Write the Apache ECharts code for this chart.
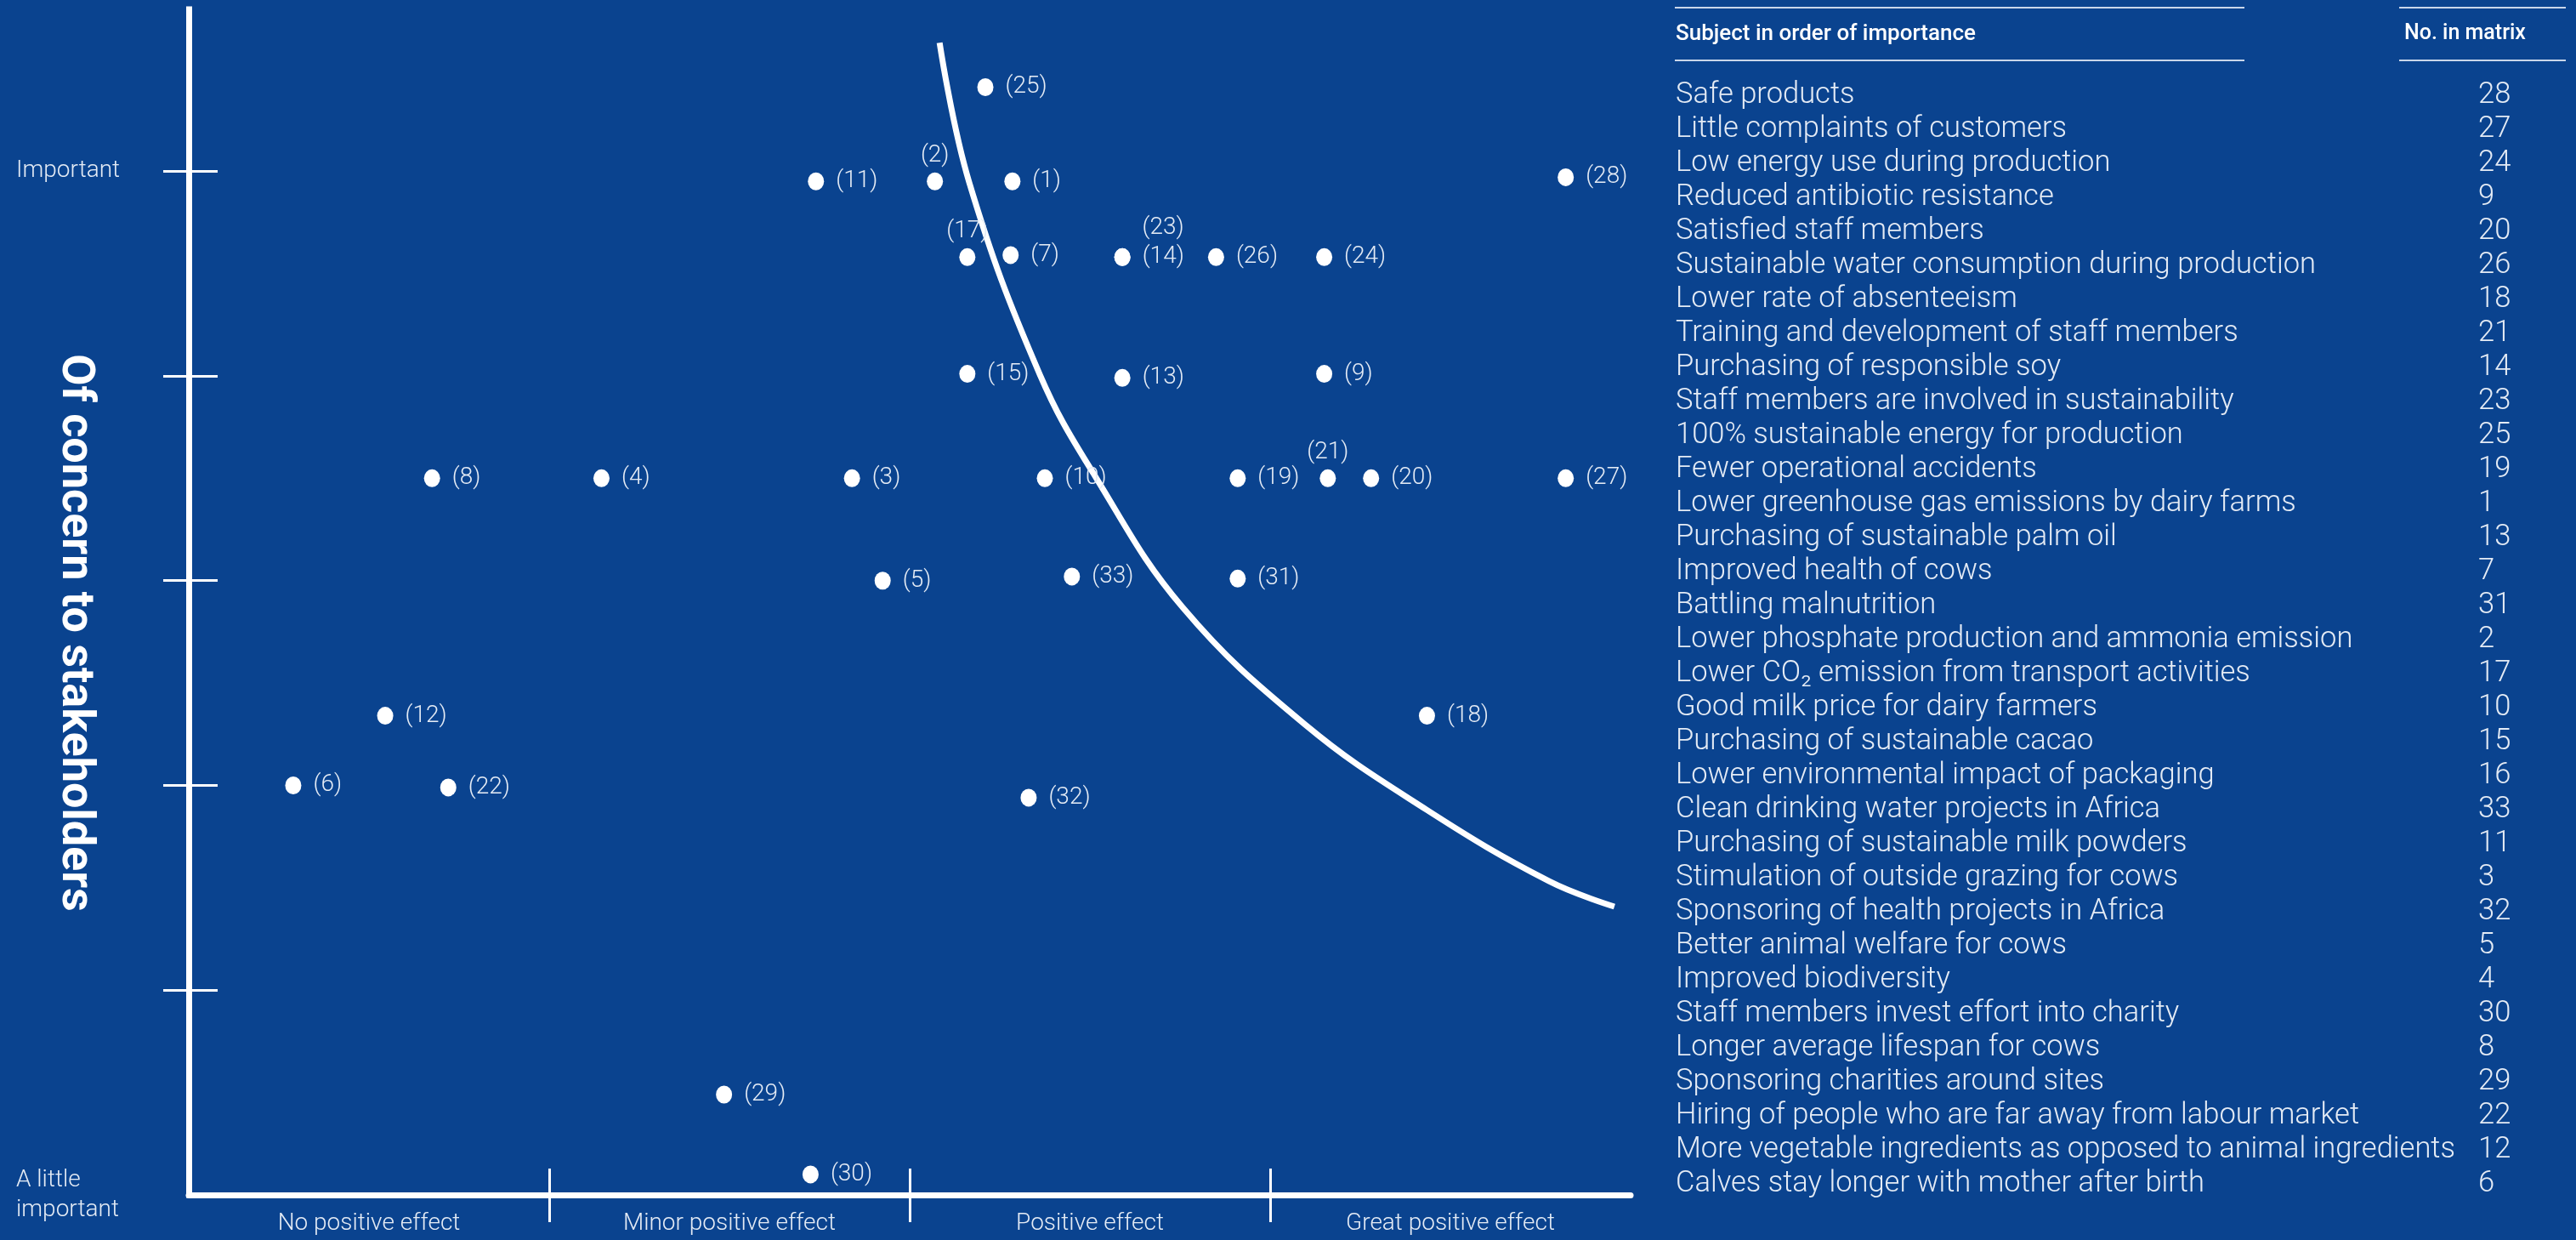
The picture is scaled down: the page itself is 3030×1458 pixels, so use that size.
<!DOCTYPE html>
<html><head><meta charset="utf-8">
<script src="https://cdn.jsdelivr.net/npm/echarts@6/dist/echarts.min.js"></script>
<style>html,body{margin:0;padding:0;background:#0a438f;overflow:hidden}#c{width:3030px;height:1458px;}</style>
</head><body><div id="c"></div>
<script>
// ---------- data ----------
const xCategories = ['No positive effect', 'Minor positive effect', 'Positive effect', 'Great positive effect'];
const yTopLabel = 'Important';
const yBottomLabel = 'A little\nimportant';
const yAxisTitle = 'Of concern to stakeholders';

const pointIds = [25, 11, 2, 1, 28, 17, 7, 14, 23, 26, 24, 15, 13, 9, 8, 4, 3, 10, 19, 21, 20, 27, 5, 33, 31, 12, 18, 6, 22, 32, 29, 30];
const pointX   = [2.21, 1.74, 2.07, 2.285, 3.82, 2.16, 2.28, 2.59, 2.59, 2.85, 3.15, 2.16, 2.59, 3.15, 0.675, 1.145, 1.84, 2.375, 2.91, 3.16, 3.28, 3.82, 1.925, 2.45, 2.91, 0.545, 3.435, 0.29, 0.72, 2.33, 1.485, 1.725];
const pointY   = [5.41, 4.95, 4.95, 4.95, 4.97, 4.58, 4.59, 4.58, 4.58, 4.58, 4.58, 4.01, 3.99, 4.01, 3.50, 3.50, 3.50, 3.50, 3.50, 3.50, 3.50, 3.50, 3.00, 3.02, 3.01, 2.34, 2.34, 2.00, 1.99, 1.94, 0.49, 0.10];

const curveX = [2.083, 2.165, 2.361, 2.519, 2.757, 3.097, 3.434, 3.774, 3.955];
const curveY = [5.627, 4.946, 4.007, 3.497, 2.870, 2.297, 1.881, 1.532, 1.408];

const tableHeaderSubject = 'Subject in order of importance';
const tableHeaderNumber = 'No. in matrix';
const subjects = [
  'Safe products',
  'Little complaints of customers',
  'Low energy use during production',
  'Reduced antibiotic resistance',
  'Satisfied staff members',
  'Sustainable water consumption during production',
  'Lower rate of absenteeism',
  'Training and development of staff members',
  'Purchasing of responsible soy',
  'Staff members are involved in sustainability',
  '100% sustainable energy for production',
  'Fewer operational accidents',
  'Lower greenhouse gas emissions by dairy farms',
  'Purchasing of sustainable palm oil',
  'Improved health of cows',
  'Battling malnutrition',
  'Lower phosphate production and ammonia emission',
  'Lower CO\u2082 emission from transport activities',
  'Good milk price for dairy farmers',
  'Purchasing of sustainable cacao',
  'Lower environmental impact of packaging',
  'Clean drinking water projects in Africa',
  'Purchasing of sustainable milk powders',
  'Stimulation of outside grazing for cows',
  'Sponsoring of health projects in Africa',
  'Better animal welfare for cows',
  'Improved biodiversity',
  'Staff members invest effort into charity',
  'Longer average lifespan for cows',
  'Sponsoring charities around sites',
  'Hiring of people who are far away from labour market',
  'More vegetable ingredients as opposed to animal ingredients',
  'Calves stay longer with mother after birth'
];
const subjectNumbers = [28, 27, 24, 9, 20, 26, 18, 21, 14, 23, 25, 19, 1, 13, 7, 31, 2, 17, 10, 15, 16, 33, 11, 3, 32, 5, 4, 30, 8, 29, 22, 12, 6];

// ---------- styling ----------
const BG = '#0a438f';
const TXT = '#e4ebf5';
const FONT = 'Roboto';
const labelAbove = new Set([2, 17, 21]);

const chart = echarts.init(document.getElementById('c'), null, {renderer: 'canvas', devicePixelRatio: 1});

const scatterData = pointIds.map((id, i) => {
  const d = {value: [pointX[i], pointY[i]], name: '(' + id + ')'};
  if (labelAbove.has(id)) d.label = {position: 'top', distance: 6};
  if (id === 23) d.label = {position: 'top', distance: 6, offset: [48, -4]};
  return d;
});

const curveData = curveX.map((x, i) => [x, curveY[i]]);

const graphics = [];
graphics.push({
  type: 'text', x: 87, y: 744, rotation: -Math.PI / 2,
  style: {text: yAxisTitle, fill: '#ffffff', fontSize: 54, fontWeight: 'bold', fontFamily: FONT, align: 'center', verticalAlign: 'middle'}
});
// table header lines
const tLeft = 1970, tRight = 2640, nLeft = 2822, nRight = 3018;
[9, 71].forEach(y => {
  graphics.push({type: 'line', shape: {x1: tLeft, y1: y, x2: tRight, y2: y}, style: {stroke: '#c9d6ea', lineWidth: 2}});
  graphics.push({type: 'line', shape: {x1: nLeft, y1: y, x2: nRight, y2: y}, style: {stroke: '#c9d6ea', lineWidth: 2}});
});
graphics.push({type: 'text', x: 1971, y: 40, style: {text: tableHeaderSubject, fill: '#ffffff', fontSize: 26, fontWeight: 500, fontFamily: FONT, align: 'left', verticalAlign: 'middle'}});
graphics.push({type: 'text', x: 2828, y: 40, style: {text: tableHeaderNumber, fill: '#ffffff', fontSize: 25, fontWeight: 500, fontFamily: FONT, align: 'left', verticalAlign: 'middle'}});
subjects.forEach((s, i) => {
  const y = 112 + i * 40;
  graphics.push({type: 'text', x: 1971, y: y, style: {text: s, fill: TXT, fontSize: 34.5, fontWeight: 300, fontFamily: FONT, align: 'left', verticalAlign: 'middle'}});
  graphics.push({type: 'text', x: 2915, y: y, style: {text: String(subjectNumbers[i]), fill: TXT, fontSize: 34.5, fontWeight: 300, fontFamily: FONT, align: 'left', verticalAlign: 'middle'}});
});

const xMain = {
  type: 'value', min: 0, max: 4, interval: 1, position: 'bottom',
  axisLine: {show: true, lineStyle: {color: '#ffffff', width: 7}},
  axisTick: {show: true, inside: false, length: 32, customValues: [1, 2, 3], lineStyle: {color: '#ffffff', width: 3}},
  axisLabel: {show: true, customValues: [0.5, 1.5, 2.5, 3.5], margin: 20, color: TXT, fontSize: 28, fontWeight: 300, fontFamily: FONT,
    formatter: v => xCategories[Math.floor(v)]},
  splitLine: {show: false}
};
const xInner = {
  type: 'value', min: 0, max: 4, interval: 1, position: 'bottom',
  axisLine: {show: false},
  axisTick: {show: true, inside: true, length: 31, customValues: [1, 2, 3], lineStyle: {color: '#ffffff', width: 3}},
  axisLabel: {show: false}, splitLine: {show: false}
};
const yMain = {
  type: 'value', min: 0, max: 5.79, interval: 1, position: 'left',
  axisLine: {show: true, lineStyle: {color: '#ffffff', width: 7, cap: 'square'}},
  axisTick: {show: true, inside: false, length: 30, customValues: [1, 2, 3, 4, 5], lineStyle: {color: '#ffffff', width: 3}},
  axisLabel: {show: true, customValues: [0, 5], align: 'left', margin: 203, color: TXT, fontSize: 28, fontWeight: 300, fontFamily: FONT, lineHeight: 35,
    formatter: v => v === 5 ? yTopLabel : (v === 0 ? yBottomLabel : '')},
  splitLine: {show: false}
};
const yInner = {
  type: 'value', min: 0, max: 5.79, interval: 1, position: 'left',
  axisLine: {show: false},
  axisTick: {show: true, inside: true, length: 34, customValues: [1, 2, 3, 4, 5], lineStyle: {color: '#ffffff', width: 3}},
  axisLabel: {show: false}, splitLine: {show: false}
};

chart.setOption({
  backgroundColor: BG,
  animation: false,
  grid: {left: 222, right: 3030 - 1918, top: 11, bottom: 1458 - 1405, containLabel: false},
  xAxis: [xMain, xInner],
  yAxis: [yMain, yInner],
  graphic: graphics,
  series: [
    {
      type: 'line', xAxisIndex: 0, yAxisIndex: 0, data: curveData, smooth: 0.4, showSymbol: false, symbol: 'none',
      lineStyle: {color: '#ffffff', width: 7}, z: 3, silent: true
    },
    {
      type: 'scatter', xAxisIndex: 0, yAxisIndex: 0, data: scatterData, symbol: 'circle', symbolSize: [19, 21],
      itemStyle: {color: '#ffffff', opacity: 1}, z: 4,
      label: {show: true, position: 'right', distance: 14, formatter: p => p.name, color: TXT, fontSize: 28, fontWeight: 300, fontFamily: FONT}
    }
  ]
});
</script>
</body></html>
